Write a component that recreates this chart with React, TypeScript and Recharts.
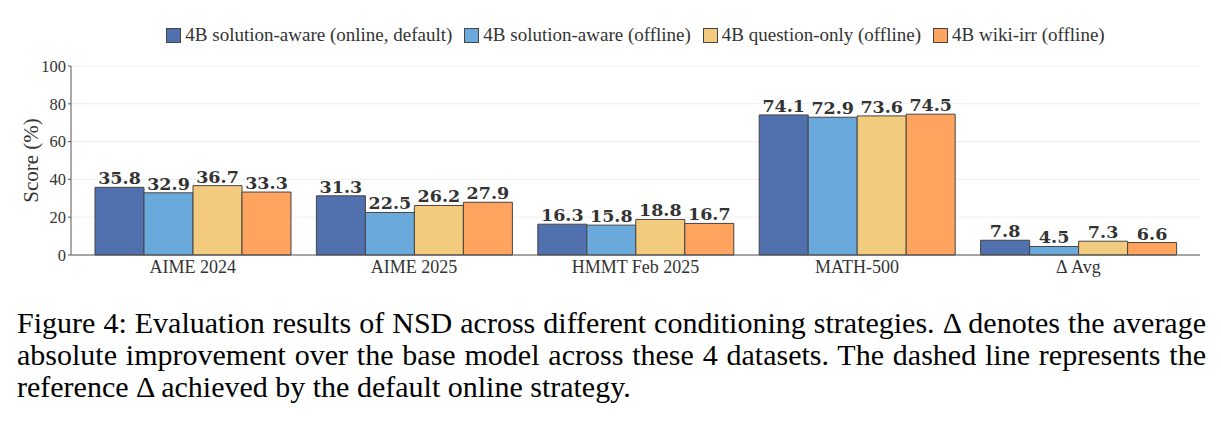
import React from "react";
import {
  BarChart,
  Bar,
  XAxis,
  YAxis,
  CartesianGrid,
  Legend,
  LabelList,
} from "recharts";

const categories = ["AIME 2024", "AIME 2025", "HMMT Feb 2025", "MATH-500", "Δ Avg"];
const onlineDefault = [35.8, 31.3, 16.3, 74.1, 7.8];
const solutionOffline = [32.9, 22.5, 15.8, 72.9, 4.5];
const questionOnly = [36.7, 26.2, 18.8, 73.6, 7.3];
const wikiIrr = [33.3, 27.9, 16.7, 74.5, 6.6];
const seriesNames = [
  "4B solution-aware (online, default)",
  "4B solution-aware (offline)",
  "4B question-only (offline)",
  "4B wiki-irr (offline)",
];
const yTicks = [0, 20, 40, 60, 80, 100];

const colors = ["#5170ae", "#6aa9dc", "#f3cb7e", "#fea45e"];
const SERIF = "'Liberation Serif', 'DejaVu Serif', serif";

const data = categories.map((category, i) => ({
  category,
  s0: onlineDefault[i],
  s1: solutionOffline[i],
  s2: questionOnly[i],
  s3: wikiIrr[i],
}));

// keep legend in series order (recharts sorts by name otherwise)
const renderLegend = (props: any) => {
  const items = [...(props.payload || [])].sort(
    (a: any, b: any) => seriesNames.indexOf(a.value) - seriesNames.indexOf(b.value)
  );
  return (
    <div
      style={{
        display: "flex",
        justifyContent: "center",
        gap: 12,
        fontFamily: SERIF,
        fontSize: 19,
        color: "#333",
      }}
    >
      {items.map((e: any) => (
        <span key={e.value} style={{ display: "flex", alignItems: "center" }}>
          <span
            style={{
              width: 15,
              height: 15,
              background: e.color,
              border: "1px solid #444",
              marginRight: 4,
              boxSizing: "border-box",
            }}
          />
          <span>{e.value}</span>
        </span>
      ))}
    </div>
  );
};

export default function App() {
  return (
    <div
      style={{
        position: "absolute",
        left: 0,
        top: 0,
        width: 1221,
        height: 422,
        background: "#fff",
      }}
    >
      {/* legend height (~22px) is added on top of margin.top */}
      <BarChart
        width={1221}
        height={290}
        data={data}
        margin={{ top: 44, right: 21, left: 0, bottom: 5 }}
        barCategoryGap={13}
        barGap={0}
      >
        <CartesianGrid vertical={false} stroke="#eeeeee" />
        <XAxis
          dataKey="category"
          padding={{ left: 11, right: 11 }}
          tickLine={false}
          tickSize={0}
          tickMargin={5}
          height={30}
          axisLine={{ stroke: "#555" }}
          tick={{ fontFamily: SERIF, fontSize: 18, fill: "#333" }}
        />
        <XAxis
          xAxisId="top"
          orientation="top"
          dataKey="category"
          height={0}
          tick={false}
          tickLine={false}
          axisLine={{ stroke: "#666" }}
        />
        <YAxis
          width={71}
          domain={[0, 100]}
          ticks={yTicks}
          tickSize={3}
          tickMargin={2}
          axisLine={{ stroke: "#555" }}
          tickLine={{ stroke: "#555" }}
          tick={{ fontFamily: SERIF, fontSize: 16.5, fill: "#333" }}
          label={{
            value: "Score (%)",
            angle: -90,
            position: "insideLeft",
            offset: 31,
            style: {
              textAnchor: "middle",
              fontFamily: SERIF,
              fontSize: 21,
              fill: "#333",
            },
          }}
        />
        <YAxis
          yAxisId="right"
          orientation="right"
          width={0}
          domain={[0, 100]}
          tick={false}
          tickLine={false}
          axisLine={{ stroke: "#666" }}
        />
        <Legend
          verticalAlign="top"
          content={renderLegend}
          wrapperStyle={{ top: 24, left: 71, width: 1129 }}
        />
        {["s0", "s1", "s2", "s3"].map((key, i) => (
          <Bar
            key={key}
            dataKey={key}
            name={seriesNames[i]}
            fill={colors[i]}
            stroke="#444"
            strokeWidth={1}
            isAnimationActive={false}
          >
            <LabelList
              dataKey={key}
              position="top"
              offset={3}
              formatter={(v: any) => Number(v).toFixed(1)}
              style={{
                fontFamily: "'DejaVu Serif', serif",
                fontWeight: "bold",
                fontSize: 17.5,
                fill: "#333",
              }}
            />
          </Bar>
        ))}
      </BarChart>
      <div
        style={{
          position: "absolute",
          left: 17,
          top: 307,
          width: 1189,
          fontFamily: "'Liberation Serif', serif",
          fontSize: 30,
          lineHeight: "32px",
          color: "#000",
        }}
      >
        <div style={{ textAlign: "justify", textAlignLast: "justify" }}>
          Figure 4: Evaluation results of NSD across different conditioning strategies. Δ denotes the average
        </div>
        <div style={{ textAlign: "justify", textAlignLast: "justify" }}>
          absolute improvement over the base model across these 4 datasets. The dashed line represents the
        </div>
        <div>reference Δ achieved by the default online strategy.</div>
      </div>
    </div>
  );
}
